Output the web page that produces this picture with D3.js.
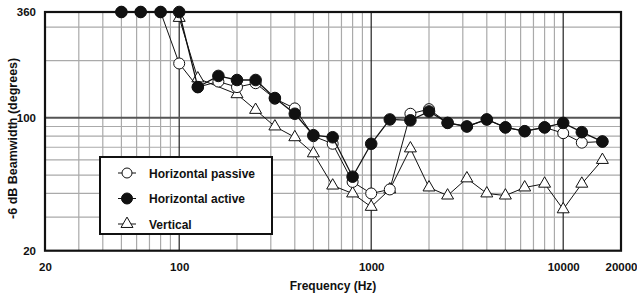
<!DOCTYPE html>
<html>
<head>
<meta charset="utf-8">
<script src="https://cdn.jsdelivr.net/npm/d3@7"></script>
<style>
  body { margin: 0; background: #fff; }
  text { font-family: "Liberation Sans", Arial, sans-serif; font-weight: bold; fill: #111; }
</style>
</head>
<body>
<div id="chart"></div>
<script>
// third-octave frequencies (Hz)
const freqs = [50, 63, 80, 100, 125, 160, 200, 250, 315, 400, 500, 630, 800, 1000,
  1250, 1600, 2000, 2500, 3150, 4000, 5000, 6300, 8000, 10000, 12500, 16000];

// -6 dB beamwidth in degrees
const passive = [360, 360, 360, 193, 145, 155, 145, 152, 126, 112, 80, 73, 46, 40,
  42, 105, 111, 94, 90, 98, 89, 85, 89, 83, 74, 75];
const active = [360, 360, 360, 360, 145, 166, 158, 158, 127, 105, 81, 79, 49, 73,
  98, 97, 108, 94, 90, 98, 89, 85, 89, 94, 84, 75];
const vertical = [null, null, null, 335, 161, null, 133, 110, 90, 79, 65, 44, 40, 34,
  42, 69, 43, 39, 48, 40, 39, 43, 45, 33, 45, 60];

const seriesNames = ["Horizontal passive", "Horizontal active", "Vertical"];

const xTicks = [20, 100, 1000, 10000, 20000];
const yTicks = [20, 100, 360];
const xMinor = [30, 40, 50, 60, 70, 80, 90, 200, 300, 400, 500, 600, 700, 800, 900,
  2000, 3000, 4000, 5000, 6000, 7000, 8000, 9000];
const xMajor = [100, 1000, 10000];
const yMinor = [30, 40, 50, 60, 70, 80, 90, 200, 300];
const yMajor = [100];

const W = 637, H = 296;
const pLeft = 45, pRight = 621, pTop = 12, pBottom = 250.7;

const svg = d3.select("#chart").append("svg")
  .attr("width", W).attr("height", H);

const x = d3.scaleLog().domain([20, 20000]).range([pLeft, pRight]);
const y = d3.scaleLog().domain([20, 360]).range([pBottom, pTop]);

// grid
const grid = svg.append("g");
grid.selectAll(".vmin").data(xMinor).join("line")
  .attr("x1", d => x(d)).attr("x2", d => x(d))
  .attr("y1", pTop).attr("y2", pBottom)
  .attr("stroke", "#aaa").attr("stroke-width", 1.2);
grid.selectAll(".hmin").data(yMinor).join("line")
  .attr("x1", pLeft).attr("x2", pRight)
  .attr("y1", d => y(d)).attr("y2", d => y(d))
  .attr("stroke", "#aaa").attr("stroke-width", 1.2);
grid.selectAll(".vmaj").data(xMajor).join("line")
  .attr("x1", d => x(d)).attr("x2", d => x(d))
  .attr("y1", pTop).attr("y2", pBottom)
  .attr("stroke", "#222").attr("stroke-width", 1.2);
grid.selectAll(".hmaj").data(yMajor).join("line")
  .attr("x1", pLeft).attr("x2", pRight)
  .attr("y1", d => y(d)).attr("y2", d => y(d))
  .attr("stroke", "#555").attr("stroke-width", 2);

// frame
svg.append("rect")
  .attr("x", pLeft).attr("y", pTop)
  .attr("width", pRight - pLeft).attr("height", pBottom - pTop)
  .attr("fill", "none").attr("stroke", "#111").attr("stroke-width", 2.2);

// axes labels
const xAxis = d3.axisBottom(x).tickValues(xTicks).tickSize(0).tickPadding(12)
  .tickFormat(d3.format("d"));
svg.append("g").attr("transform", `translate(0,${pBottom})`).call(xAxis)
  .call(g => g.select(".domain").remove())
  .selectAll("text").style("font-size", "11.5px");

const yAxis = d3.axisLeft(y).tickValues(yTicks).tickSize(0).tickPadding(9)
  .tickFormat(d3.format("d"));
svg.append("g").attr("transform", `translate(${pLeft},0)`).call(yAxis)
  .call(g => g.select(".domain").remove())
  .selectAll("text").style("font-size", "11.5px");

svg.append("text")
  .attr("x", (pLeft + pRight) / 2).attr("y", 290)
  .attr("text-anchor", "middle").style("font-size", "12px")
  .text("Frequency (Hz)");

svg.append("text")
  .attr("transform", `translate(17,${(pTop + pBottom) / 2 + 7}) rotate(-90)`)
  .attr("text-anchor", "middle").style("font-size", "12.5px")
  .text("-6 dB Beamwidth (degrees)");

// series
const line = d3.line().x(d => x(d[0])).y(d => y(d[1]));
const tri = d3.symbol().type(d3.symbolTriangle).size(62);

function pts(vals) {
  return freqs.map((f, i) => [f, vals[i]]).filter(d => d[1] != null);
}

const plot = svg.append("g");

// vertical
plot.append("path").datum(pts(vertical)).attr("d", line)
  .attr("fill", "none").attr("stroke", "#111").attr("stroke-width", 1);
plot.selectAll(".tri").data(pts(vertical)).join("path")
  .attr("d", tri)
  .attr("transform", d => `translate(${x(d[0])},${y(d[1])})`)
  .attr("fill", "#fff").attr("stroke", "#111").attr("stroke-width", 1);

// passive
plot.append("path").datum(pts(passive)).attr("d", line)
  .attr("fill", "none").attr("stroke", "#111").attr("stroke-width", 1);
plot.selectAll(".oc").data(pts(passive)).join("circle")
  .attr("cx", d => x(d[0])).attr("cy", d => y(d[1])).attr("r", 5.5)
  .attr("fill", "#fff").attr("stroke", "#111").attr("stroke-width", 1);

// active
plot.append("path").datum(pts(active)).attr("d", line)
  .attr("fill", "none").attr("stroke", "#111").attr("stroke-width", 1.3);
plot.selectAll(".fc").data(pts(active)).join("circle")
  .attr("cx", d => x(d[0])).attr("cy", d => y(d[1])).attr("r", 5.8)
  .attr("fill", "#111").attr("stroke", "#111").attr("stroke-width", 1);

// legend
const lg = svg.append("g").attr("transform", "translate(100,157)");
lg.append("rect").attr("width", 172).attr("height", 77)
  .attr("fill", "#fff").attr("stroke", "#111").attr("stroke-width", 2);
seriesNames.forEach((name, i) => {
  const row = lg.append("g").attr("transform", `translate(0,${16 + i * 25.5})`);
  row.append("line").attr("x1", 18).attr("x2", 36).attr("y1", 0).attr("y2", 0)
    .attr("stroke", "#111").attr("stroke-width", 1);
  if (i === 2) {
    row.append("path").attr("d", tri).attr("transform", "translate(27,0)")
      .attr("fill", "#fff").attr("stroke", "#111");
  } else {
    row.append("circle").attr("cx", 27).attr("cy", 0).attr("r", i === 1 ? 5.5 : 5)
      .attr("fill", i === 1 ? "#111" : "#fff").attr("stroke", "#111");
  }
  row.append("text").attr("x", 49).attr("y", 4.5).style("font-size", "12px").text(name);
});
</script>
</body>
</html>
